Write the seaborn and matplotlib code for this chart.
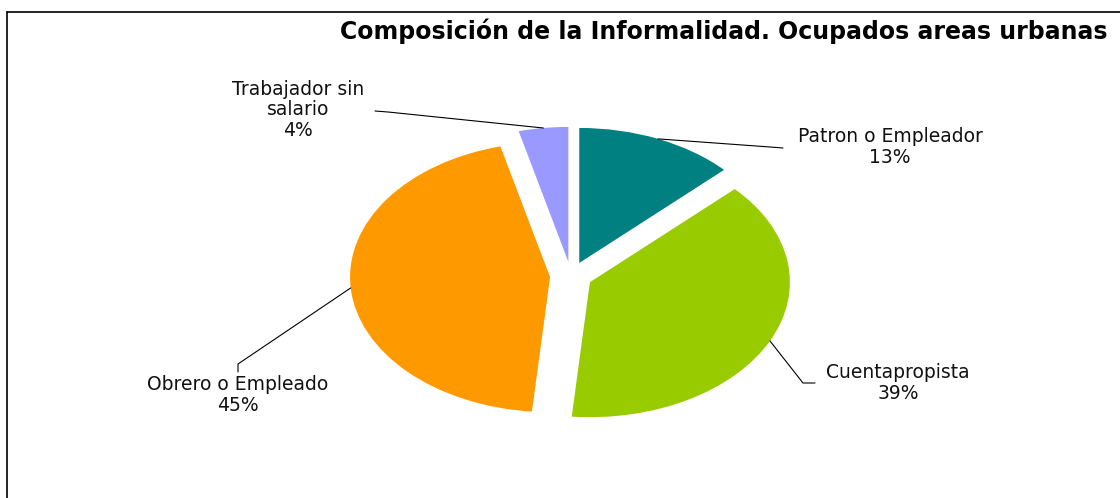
#!/usr/bin/env python3
# coding: utf-8

import matplotlib.pyplot as plt
import seaborn as sns
import numpy as np
from matplotlib.lines import Line2D

plt.switch_backend('Agg')

# data (clockwise from 12 o'clock)
categories = ['Patron o Empleador', 'Cuentapropista', 'Obrero o Empleado',
              'Trabajador sin\nsalario']
shares = [12.9, 38.6, 44.6, 4.0]
colors = ['#008080', '#99CC00', '#FF9900', '#9999FF']
title = 'Composición de la Informalidad. Ocupados areas urbanas'

sns.set_theme(style='white')
plt.rcParams['font.family'] = ['DejaVu Sans']

W, H = 1120, 498
# pie centre and radii in pixels (the pie is flattened into an ellipse)
CX, CY, RX, RY = 571, 276, 200, 135


def px(x, y):
    return (x - CX) / RX, (CY - y) / RY


fig = plt.figure(figsize=(W / 100, H / 100), dpi=100)
ax = fig.add_axes([0, 0, 1, 1])
wedges, _ = ax.pie(shares, colors=colors, startangle=90, counterclock=False,
                   explode=[0.105] * len(shares), radius=1,
                   wedgeprops=dict(linewidth=0))
ax.set_aspect('auto')
ax.set_xlim(px(0, 0)[0], px(W, 0)[0])
ax.set_ylim(px(0, H)[1], px(0, 0)[1])
ax.axis('off')

total = sum(shares)
# text centre and leader line bend points (pixels)
text_pos = [(890, 147), (898, 383), (238, 395), (298, 110)]
bends = [[(770, 147), (783, 148)],
         [(803, 383), (815, 383)],
         [(238, 364), (238, 372)],
         [(388, 112), (375, 111)]]

for w, cat, v, tp, bd in zip(wedges, categories, shares, text_pos, bends):
    th = np.deg2rad((w.theta1 + w.theta2) / 2)
    cx, cy = w.center
    pts = [(cx + np.cos(th), cy + np.sin(th))] + [px(*b) for b in bd]
    xs, ys = zip(*pts)
    ax.plot(xs, ys, color='black', lw=0.8, clip_on=False)
    tx, ty = px(*tp)
    ax.text(tx, ty, f'{cat}\n{v / total * 100:.0f}%', ha='center',
            va='center', fontsize=13.5, color='#111111', linespacing=1.1)

fig.text(1108 / W, 1 - 31 / H, title, ha='right', va='center',
         fontsize=17, fontweight='bold', color='black')

# chart frame (top and left edges visible)
fig.add_artist(Line2D([7 / W, 1], [1 - 12 / H, 1 - 12 / H], color='black', lw=1.2))
fig.add_artist(Line2D([7 / W, 7 / W], [0, 1 - 12 / H], color='black', lw=1.2))

plt.savefig('out.png', dpi=100, facecolor='white')
